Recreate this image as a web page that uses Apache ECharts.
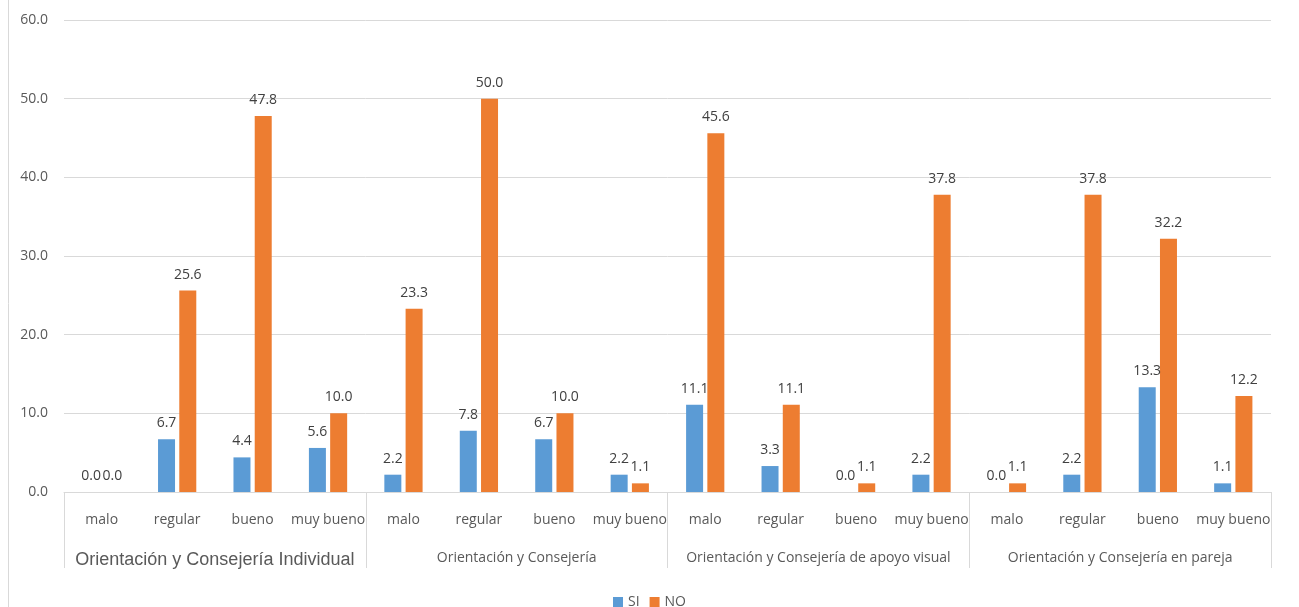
<!DOCTYPE html>
<html>
<head>
<meta charset="utf-8">
<script src="https://cdn.jsdelivr.net/npm/echarts@6/dist/echarts.min.js"></script>
<style>
  html, body { margin: 0; padding: 0; background: #fff; }
  #chart { width: 1299px; height: 607px; }
</style>
</head>
<body>
<div id="chart"></div>
<script>
// Ratings per service type
const ratings = ['malo', 'regular', 'bueno', 'muy bueno',
                 'malo', 'regular', 'bueno', 'muy bueno',
                 'malo', 'regular', 'bueno', 'muy bueno',
                 'malo', 'regular', 'bueno', 'muy bueno'];
const groups = ['Orientación y Consejería Individual',
                'Orientación y Consejería',
                'Orientación y Consejería de apoyo visual',
                'Orientación y Consejería en pareja'];
const siValues = [0.0, 6.7, 4.4, 5.6, 2.2, 7.8, 6.7, 2.2, 11.1, 3.3, 0.0, 2.2, 0.0, 2.2, 13.3, 1.1];
const noValues = [0.0, 25.6, 47.8, 10.0, 23.3, 50.0, 10.0, 1.1, 45.6, 11.1, 1.1, 37.8, 1.1, 37.8, 32.2, 12.2];
const yTicks = { min: 0, max: 60, interval: 10 };

const FONT = "'Open Sans', 'Liberation Sans', sans-serif";
const GRID = '#d9d9d9';

const chart = echarts.init(document.getElementById('chart'), null, { renderer: 'canvas' });

const valueLabel = {
  show: true,
  position: 'top',
  distance: 9,
  color: '#404040',
  fontSize: 14,
  fontFamily: FONT,
  formatter: p => Number(p.value).toFixed(1)
};

chart.setOption({
  animation: false,
  textStyle: { fontFamily: FONT },
  grid: { left: 64, right: 28, top: 20, bottom: 115 },
  legend: {
    top: 590,
    left: 'center',
    icon: 'rect',
    itemWidth: 10,
    itemHeight: 10,
    itemGap: 10,
    textStyle: { color: '#595959', fontSize: 14, fontFamily: FONT },
    data: ['SI', 'NO']
  },
  xAxis: [
    {
      type: 'category',
      data: ratings,
      axisLine: { lineStyle: { color: GRID, width: 1 } },
      axisTick: { show: false },
      axisLabel: { color: '#595959', fontSize: 14, fontFamily: FONT, margin: 21, interval: 0 }
    },
    {
      type: 'category',
      data: groups,
      position: 'bottom',
      axisLine: { show: false },
      axisTick: { show: true, length: 76, lineStyle: { color: GRID } },
      axisLabel: {
        color: '#595959',
        fontSize: 14,
        fontFamily: FONT,
        margin: 59,
        interval: 0,
        rich: {
          big: { fontSize: 18, fontFamily: "'Liberation Sans', Arial, sans-serif", color: '#595959' }
        },
        formatter: (v, i) => i === 0 ? '{big|' + v + '}' : v
      }
    }
  ],
  yAxis: {
    type: 'value',
    min: yTicks.min,
    max: yTicks.max,
    interval: yTicks.interval,
    axisLine: { show: false },
    axisTick: { show: false },
    splitLine: { lineStyle: { color: GRID, width: 1 } },
    axisLabel: {
      color: '#595959',
      fontSize: 14,
      fontFamily: FONT,
      margin: 16,
      formatter: v => v.toFixed(1)
    }
  },
  series: [
    {
      name: 'SI',
      type: 'bar',
      data: siValues,
      barWidth: 17,
      barGap: '25%',
      itemStyle: { color: '#5B9BD5' },
      label: valueLabel
    },
    {
      name: 'NO',
      type: 'bar',
      data: noValues,
      barWidth: 17,
      barGap: '25%',
      itemStyle: { color: '#ED7D31' },
      label: valueLabel
    }
  ],
  graphic: [
    {
      type: 'line',
      shape: { x1: 8.5, y1: 0, x2: 8.5, y2: 607 },
      style: { stroke: GRID, lineWidth: 1 }
    }
  ]
});
</script>
</body>
</html>
